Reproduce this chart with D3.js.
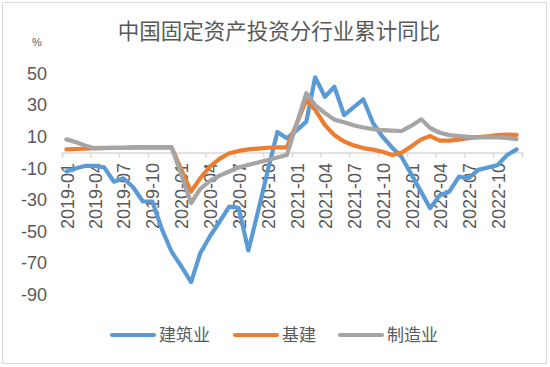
<!DOCTYPE html>
<html>
<head>
<meta charset="utf-8">
<script src="https://cdn.jsdelivr.net/npm/d3@7"></script>
<style>
body { margin: 0; background: #fff; }
svg text { font-family: "Liberation Sans", Arial, "Noto Sans CJK SC", sans-serif; fill: #595959; }
.cjk { font-family: "Noto Sans CJK SC", "Liberation Sans", sans-serif; }
</style>
</head>
<body>
<svg id="chart" width="550" height="367"></svg>
<script>
// month categories
var months = [
    "2019-01","2019-02","2019-03","2019-04","2019-05","2019-06","2019-07","2019-08","2019-09","2019-10","2019-11","2019-12",
    "2020-01","2020-02","2020-03","2020-04","2020-05","2020-06","2020-07","2020-08","2020-09","2020-10","2020-11","2020-12",
    "2021-01","2021-02","2021-03","2021-04","2021-05","2021-06","2021-07","2021-08","2021-09","2021-10","2021-11","2021-12",
    "2022-01","2022-02","2022-03","2022-04","2022-05","2022-06","2022-07","2022-08","2022-09","2022-10","2022-11","2022-12"
];

// 建筑业
var building = [
    -12, -10, -8.5, -8.5, -9.4, -18.5, -16.3, -22, -31, -31, -49, -62.8,
    -72, -82, -63.8, -53, -44, -34.3, -35, -62, -37, -12, 13, 9,
    14, 19.5, 47.6, 35.3, 41.6, 23.7, 28.5, 33.7, 18.5, 10, 3, -3,
    -14, -25, -35.3, -27, -24.8, -15.3, -16.3, -11, -9.5, -8, -1.6, 2
];
// 基建
var infra = [
    2, 2.2, 2.5, 2.8, 3, 3, 3, 3.2, 3.3, 3.3, 3.3, 3.3,
    -11, -24.8, -16.3, -9, -4, -0.5, 1, 2, 2.5, 3, 3.2, 3.3,
    18, 33.2, 27, 17.4, 11, 7, 4.5, 2.8, 1.8, 0.5, -1.6, -0.1,
    4, 8.3, 10.4, 7.5, 7.5, 8.2, 9, 9.7, 10.3, 11, 11.3, 11.2
];
// 制造业
var manuf = [
    8.3, 6.5, 4.5, 2.6, 2.8, 3, 3, 3.1, 3.2, 3.3, 3.3, 3.3,
    -14, -32, -23, -18, -14.6, -12, -9.5, -7.8, -6.3, -4.8, -3.2, -1.6,
    18, 37.5, 30, 25, 20.8, 19.2, 17.3, 15.8, 14.8, 14.1, 13.8, 13.6,
    17, 21, 15.5, 12.5, 11, 10.4, 9.9, 9.6, 9.6, 9.6, 9.2, 8.5
];

var seriesNames = ["建筑业", "基建", "制造业"];
var seriesColors = ["#5B9BD5", "#ED7D31", "#A5A5A5"];
var yTicks = [50, 30, 10, -10, -30, -50, -70, -90];
var xTickLabels = ["2019-01","2019-04","2019-07","2019-10","2020-01","2020-04","2020-07","2020-10",
                   "2021-01","2021-04","2021-07","2021-10","2022-01","2022-04","2022-07","2022-10"];
var titleText = "中国固定资产投资分行业累计同比";

var svg = d3.select("#chart");
var parseMonth = d3.timeParse("%Y-%m");

// chart border
svg.append("rect")
    .attr("x", 2.5).attr("y", 2.5)
    .attr("width", 544).attr("height", 361)
    .attr("fill", "#fff")
    .attr("stroke", "#d9d9d9");

var x = d3.scaleTime()
    .domain([parseMonth("2019-01"), parseMonth("2023-01")])
    .range([62, 522]);

var y = d3.scaleLinear()
    .domain([-90, 50])
    .range([294.7, 73.5]);

// points sit mid-month
function midMonth(m) {
    return d3.timeDay.offset(parseMonth(m), 14);
}

// title
svg.append("text")
    .attr("class", "cjk")
    .attr("x", 279)
    .attr("y", 39)
    .attr("text-anchor", "middle")
    .style("font-size", "21.5px")
    .text(titleText);

svg.append("text")
    .attr("x", 37)
    .attr("y", 46)
    .attr("text-anchor", "middle")
    .style("font-size", "11px")
    .text("%");

// y labels
svg.selectAll(".ylab")
    .data(yTicks)
    .enter()
    .append("text")
    .attr("class", "ylab")
    .attr("x", 47)
    .attr("y", function(d) { return y(d); })
    .attr("dy", "0.35em")
    .attr("text-anchor", "end")
    .style("font-size", "18px")
    .text(function(d) { return d; });

// x axis at zero
var xAxis = d3.axisBottom(x)
    .tickValues(d3.timeMonth.every(3).range(parseMonth("2019-01"), d3.timeDay.offset(parseMonth("2023-01"), 1)))
    .tickSize(5)
    .tickFormat("");

var gx = svg.append("g")
    .attr("transform", "translate(0," + y(0) + ")")
    .call(xAxis);
gx.select(".domain").attr("stroke", "#d9d9d9").attr("stroke-width", 1.5);
gx.selectAll(".tick line").attr("stroke", "#d9d9d9").attr("stroke-width", 1.5);

svg.selectAll(".xlab")
    .data(xTickLabels)
    .enter()
    .append("text")
    .attr("class", "xlab")
    .attr("text-anchor", "end")
    .style("font-size", "18px")
    .attr("transform", function(d) {
        return "translate(" + (x(parseMonth(d)) + 11.5) + "," + (y(0) + 10.5) + ") rotate(-90)";
    })
    .text(function(d) { return d; });

// lines
var allSeries = [building, infra, manuf];
var line = d3.line()
    .x(function(d, i) { return x(midMonth(months[i])); })
    .y(function(d) { return y(d); });

allSeries.forEach(function(s, k) {
    svg.append("path")
        .datum(s)
        .attr("d", line)
        .attr("fill", "none")
        .attr("stroke", seriesColors[k])
        .attr("stroke-width", 4.2)
        .attr("stroke-linejoin", "round")
        .attr("stroke-linecap", "round");
});

// legend
var legendX = [112, 235, 340];
var legend = svg.selectAll(".legend")
    .data(seriesNames)
    .enter()
    .append("g")
    .attr("class", "legend")
    .attr("transform", function(d, i) { return "translate(" + legendX[i] + ",335)"; });

legend.append("line")
    .attr("x1", 0).attr("x2", 42)
    .attr("y1", 0).attr("y2", 0)
    .attr("stroke", function(d, i) { return seriesColors[i]; })
    .attr("stroke-width", 4.2)
    .attr("stroke-linecap", "round");

legend.append("text")
    .attr("class", "cjk")
    .attr("x", 47)
    .attr("dy", "0.35em")
    .style("font-size", "17px")
    .text(function(d) { return d; });
</script>
</body>
</html>
